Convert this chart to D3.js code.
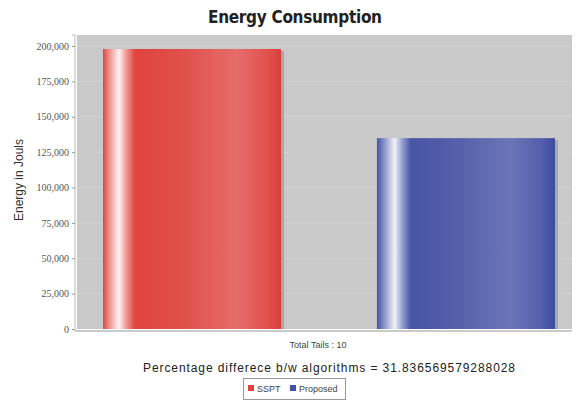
<!DOCTYPE html>
<html><head><meta charset="utf-8">
<script src="https://cdn.jsdelivr.net/npm/d3@7"></script>
<style>body{margin:0;background:#fff}svg{display:block}</style>
</head><body><svg id="c" width="577" height="404"></svg>
<script>
const categories = ["SSPT", "Proposed"];
const values = [197900, 134900];
const yTicks = [0, 25000, 50000, 75000, 100000, 125000, 150000, 175000, 200000];
const xLabel = "Total Tails : 10";
const subtitle = "Percentage differece b/w algorithms = 31.836569579288028";

const svg = d3.select("#c");
const L = 77, R = 572, T = 35, B = 329;
const y = d3.scaleLinear().domain([0, 207800]).range([B, T]);
const x = d3.scaleBand().domain(categories).range([103, 555]).paddingInner(0.35);

const defs = svg.append("defs");
const grads = [
  {id:"gRed", stops:[[0,"#dd4640"],[0.04,"#ee9a96"],[0.09,"#fbf4f2"],[0.13,"#f09a95"],[0.18,"#e0433e"],[0.45,"#e0504b"],[0.75,"#e66c6a"],[0.92,"#e2524e"],[1,"#d8403a"]]},
  {id:"gBlue", stops:[[0,"#4452a6"],[0.05,"#9aa2d2"],[0.1,"#f2f2f8"],[0.14,"#9aa2d2"],[0.19,"#4855a6"],[0.45,"#5560aa"],[0.75,"#6b74b8"],[0.92,"#5460ac"],[1,"#3e4c9e"]]}
];
grads.forEach(g => {
  const lg = defs.append("linearGradient").attr("id", g.id).attr("x1","0").attr("x2","1").attr("y1","0").attr("y2","0");
  g.stops.forEach(s => lg.append("stop").attr("offset", s[0]).attr("stop-color", s[1]));
});

svg.append("rect").attr("x", L).attr("y", T).attr("width", R - L).attr("height", B - T).attr("fill", "#c9c9c9");
svg.append("g").selectAll("line").data(yTicks.slice(1)).join("line")
  .attr("x1", L).attr("x2", R).attr("y1", d => y(d)).attr("y2", d => y(d))
  .attr("stroke", "#d3d3d3").attr("stroke-width", 1);

const yAxis = d3.axisLeft(y).tickValues(yTicks).tickFormat(d3.format(",")).tickSize(3).tickPadding(3);
const ga = svg.append("g").attr("transform", `translate(${L - 2},0)`).call(yAxis);
ga.select(".domain").attr("stroke", "#b8b8b8").attr("d", `M-3,${T}H0V${B + 2}`);
ga.selectAll(".tick line").attr("stroke", "#999");
ga.selectAll("text").attr("font-family", "Liberation Serif, serif").attr("font-size", 10).attr("fill", "#555");

svg.append("line").attr("x1", L - 2).attr("x2", R).attr("y1", B + 2).attr("y2", B + 2).attr("stroke", "#b8b8b8").attr("stroke-width", 1.5);

const colors = ["url(#gRed)", "url(#gBlue)"];
svg.append("g").selectAll("rect").data(categories).join("rect")
  .attr("x", d => x(d) + 3).attr("y", (d, i) => y(values[i]) + 2)
  .attr("width", x.bandwidth()).attr("height", (d, i) => B - y(values[i]) - 2)
  .attr("fill", "#a8a8a8");
svg.append("g").selectAll("rect").data(categories).join("rect")
  .attr("x", d => x(d)).attr("y", (d, i) => y(values[i]))
  .attr("width", x.bandwidth()).attr("height", (d, i) => B - y(values[i]))
  .attr("fill", (d, i) => colors[i]);

svg.append("text").attr("x", 295).attr("y", 23).attr("text-anchor", "middle")
  .attr("font-family", "DejaVu Sans Condensed, DejaVu Sans, sans-serif").attr("font-weight", "bold")
  .attr("font-size", 17).attr("fill", "#222").attr("textLength", 174).text("Energy Consumption");

svg.append("text").attr("transform", "translate(23,180) rotate(-90)").attr("text-anchor", "middle")
  .attr("font-family", "Liberation Sans, sans-serif").attr("font-size", 12).attr("fill", "#333").text("Energy in Jouls");

svg.append("text").attr("x", 318).attr("y", 348).attr("text-anchor", "middle")
  .attr("font-family", "Liberation Sans, sans-serif").attr("font-size", 9).attr("fill", "#444").text(xLabel);

svg.append("text").attr("x", 329).attr("y", 372).attr("text-anchor", "middle")
  .attr("font-family", "Liberation Sans, sans-serif").attr("font-size", 12).attr("fill", "#222").attr("textLength", 372).text(subtitle);

const lg = svg.append("g");
lg.append("rect").attr("x", 243.5).attr("y", 378.5).attr("width", 102).attr("height", 21).attr("fill", "#fff").attr("stroke", "#999");
const lcol = ["#e0433e", "#4452a6"];
const lx = [248, 290];
categories.forEach((c, i) => {
  lg.append("rect").attr("x", lx[i]).attr("y", 385).attr("width", 6).attr("height", 6).attr("fill", lcol[i]);
  lg.append("text").attr("x", lx[i] + 9).attr("y", 392).attr("font-family", "Liberation Sans, sans-serif")
    .attr("font-size", 9).attr("fill", "#444").text(c);
});
</script></body></html>
